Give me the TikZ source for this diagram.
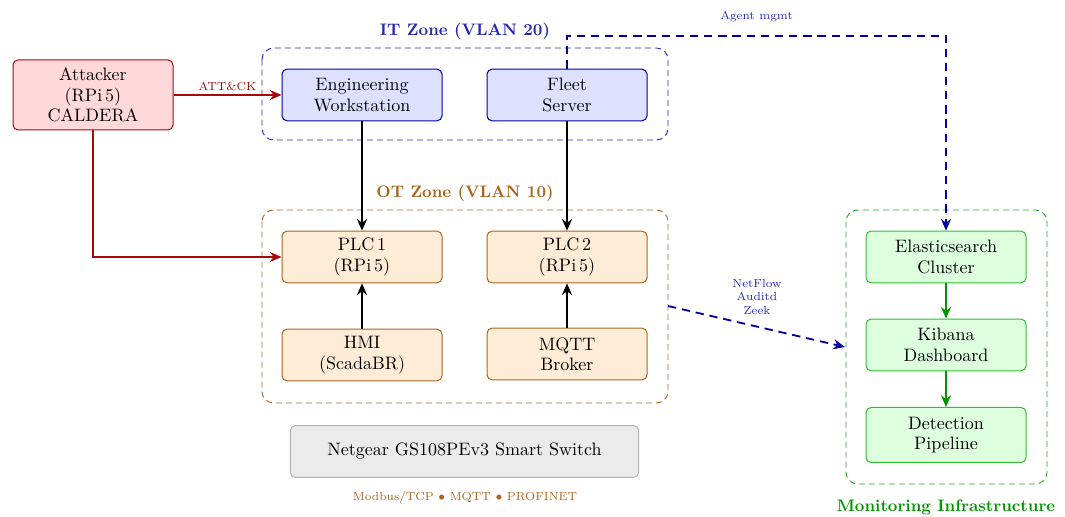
\documentclass[tikz,border=0pt]{standalone}
\usetikzlibrary{arrows.meta}
\definecolor{attred}{RGB}{165,10,10}
\definecolor{attfill}{RGB}{255,217,217}
\definecolor{itblue}{RGB}{0,0,160}
\definecolor{itfill}{RGB}{222,224,255}
\definecolor{itzone}{RGB}{40,40,190}
\definecolor{otbrown}{RGB}{170,100,30}
\definecolor{otfill}{RGB}{255,236,214}
\definecolor{mongreen}{RGB}{0,150,0}
\definecolor{monfill}{RGB}{222,255,222}
\definecolor{monborder}{RGB}{50,190,50}
\definecolor{swfill}{RGB}{235,235,235}
\definecolor{swborder}{RGB}{180,180,180}
\tikzset{
  x=0.6pt, y=-0.6pt,
  box/.style={draw, rounded corners=3pt, line width=0.6pt, align=center, inner sep=0pt, minimum height=31pt, font=\fontsize{10.8}{12.2}\selectfont},
  attbox/.style={box, draw=attred, fill=attfill, minimum width=96pt, minimum height=42pt},
  itbox/.style={box, draw=itblue, fill=itfill, minimum width=96pt},
  otbox/.style={box, draw=otbrown, fill=otfill, minimum width=96pt},
  monbox/.style={box, draw=monborder, fill=monfill, minimum width=96pt},
  swbox/.style={box, draw=swborder, fill=swfill, minimum width=209pt},
  zone/.style={draw, dashed, dash pattern=on 3.6pt off 2.4pt, rounded corners=7pt, line width=0.55pt},
  conn/.style={-{Stealth[length=7pt,width=6pt]}, line width=1.1pt},
  dconn/.style={conn, dash pattern=on 5pt off 3.5pt},
  lab/.style={font=\scriptsize, inner sep=1pt},
  zlab/.style={font=\bfseries, inner sep=1pt},
}
\begin{document}
\begin{tikzpicture}
\useasboundingbox (0,0) rectangle (1065,517);
% zones
\draw[zone, draw=itzone] (262,48) rectangle (668,140);
\node[zlab, text=itblue!85!white] (itl) at (465,31) {IT Zone (VLAN 20)};
\draw[zone, draw=otbrown] (262,210) rectangle (668,403);
\node[zlab, text=otbrown] (otl) at (465,193) {OT Zone (VLAN 10)};
\draw[zone, draw=mongreen!85!white] (846,210) rectangle (1047,484);
\node[zlab, text=mongreen] (monl) at (946,507) {Monitoring Infrastructure};
\coordinate (otright) at (668,306);
\coordinate (monleft) at (845,347);
% nodes
\node[attbox] (att) at (93,95) {Attacker\\(RPi\,5)\\CALDERA};
\node[itbox] (ew) at (362,95) {Engineering\\Workstation};
\node[itbox] (fleet) at (567,95) {Fleet\\Server};
\node[otbox] (plc1) at (362,257) {PLC\,1\\(RPi\,5)};
\node[otbox] (plc2) at (567,257) {PLC\,2\\(RPi\,5)};
\node[otbox] (hmi) at (362,355) {HMI\\(ScadaBR)};
\node[otbox] (mqtt) at (567,354) {MQTT\\Broker};
\node[monbox] (es) at (946,257) {Elasticsearch\\Cluster};
\node[monbox] (kib) at (946,345) {Kibana\\Dashboard};
\node[monbox, minimum height=33pt] (det) at (946,435) {Detection\\Pipeline};
\node[swbox] (sw) at (464.5,451.5) {Netgear GS108PEv3 Smart Switch};
\node[lab, text=otbrown] (proto) at (465,498) {Modbus/TCP $\bullet$ MQTT $\bullet$ PROFINET};
% connectors
\draw[conn, attred] (att.east) -- node[lab, above=1pt, text=attred] {ATT\&CK} (ew.west);
\draw[conn, attred] (att.south) |- (plc1.west);
\draw[conn, black] (ew.south) -- (plc1.north);
\draw[conn, black] (fleet.south) -- (plc2.north);
\draw[conn, black] (hmi.north) -- (plc1.south);
\draw[conn, black] (mqtt.north) -- (plc2.south);
\draw[dconn, itblue] (fleet.north) -- ++(0,-33) -| node[lab, pos=0.25, above=7pt, text=itzone] {Agent mgmt} (es.north);
\draw[dconn, itblue] (otright) -- (monleft);
\node[lab, text=itzone, align=center] (nf) at (757,297) {NetFlow\\Auditd\\Zeek};
\draw[conn, mongreen] (es.south) -- (kib.north);
\draw[conn, mongreen] (kib.south) -- (det.north);
\end{tikzpicture}
\end{document}
